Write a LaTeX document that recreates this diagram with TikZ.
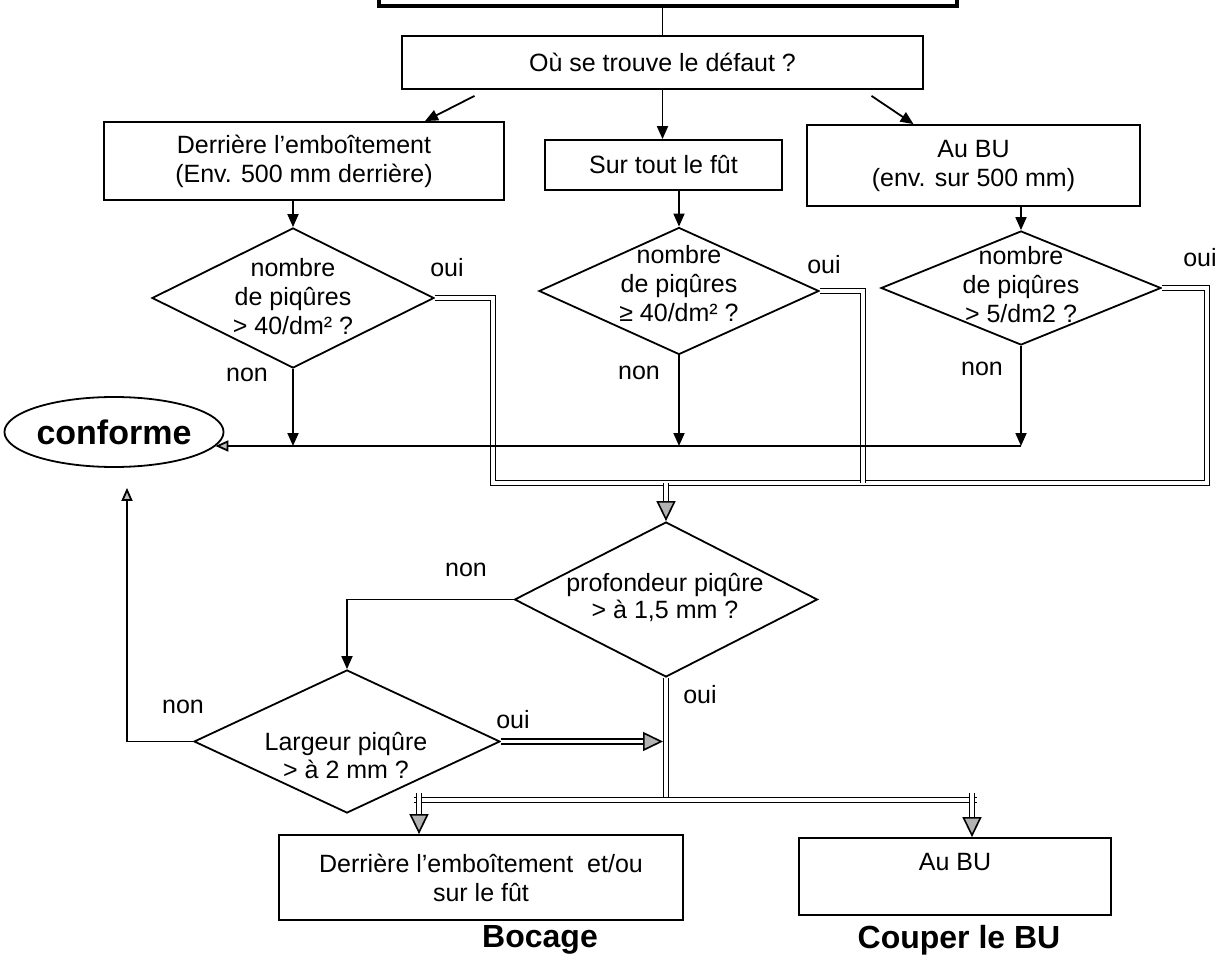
\documentclass[tikz,border=0pt]{standalone}
\usepackage{fontspec}
\setmainfont{Liberation Sans}
\usetikzlibrary{arrows.meta,shapes.geometric}
\begin{document}
\begin{tikzpicture}[x=1pt,y=-1pt,
  every node/.style={font=\fontsize{25}{29}\selectfont},
  box/.style={draw, line width=1.8pt, align=center, inner sep=0pt},
  dia/.style={diamond, draw, line width=1.8pt, inner sep=0pt},
  dtext/.style={align=center, inner sep=0pt},
  lab/.style={inner sep=0pt},
  bigtxt/.style={inner sep=0pt, font=\fontsize{32}{36}\selectfont\bfseries},
  ln/.style={line width=1.8pt},
  arr/.style={line width=1.8pt, -{Triangle[length=13pt,width=11pt]}},
  oarr/.style={line width=1.8pt, -{Triangle[length=13pt,width=11pt,fill=gray!50]}},
  dbl/.style={double, double distance=3.5pt, line width=1.6pt},
  dblarr/.style={dbl, -{Triangle[length=20pt,width=19pt,fill=gray!60]}}
]
\useasboundingbox (0,0) rectangle (1224,976);
\clip (0,0) rectangle (1224,976);

% boxes
\node[box, line width=4pt, minimum width=578pt, minimum height=40pt, anchor=south] (top) at (668,8) {};
\node[box, minimum width=521pt, minimum height=53pt] (ou) at (662.5,62.5) {Où se trouve le défaut ?};
\node[box, minimum width=400pt, minimum height=78pt] (der) at (304,161) {Derrière l’emboîtement\\(Env. 500 mm derrière)};
\node[box, minimum width=237pt, minimum height=50pt] (sur) at (663.5,165) {Sur tout le fût};
\node[box, minimum width=333pt, minimum height=81pt] (aubu) at (973.5,165.5) {Au BU\\(env. sur 500 mm)};

% diamonds
\node[dia, minimum width=282pt, minimum height=140pt] (d1) at (293,298) {};
\node[dtext] (t1) at (293,297) {nombre\\de piqûres\\> 40/dm² ?};
\node[dia, minimum width=280pt, minimum height=127pt] (d2) at (679,291) {};
\node[dtext] (t2) at (679,284) {nombre\\de piqûres\\≥ 40/dm² ?};
\node[dia, minimum width=280pt, minimum height=114pt] (d3) at (1021,288) {};
\node[dtext] (t3) at (1021,285) {nombre\\de piqûres\\> 5/dm2 ?};

\node[draw, ellipse, line width=1.8pt, minimum width=218pt, minimum height=70pt, inner sep=0pt, font=\fontsize{34}{38}\selectfont\bfseries] (conf) at (114,432) {conforme};

\node[dia, minimum width=303pt, minimum height=155pt] (d4) at (666,599.5) {};
\node[dtext, font=\fontsize{25}{27}\selectfont] (t4) at (665,597) {profondeur piqûre\\> à 1,5 mm ?};
\node[dia, minimum width=306pt, minimum height=143pt] (d5) at (347,741.5) {};
\node[dtext, font=\fontsize{25}{28}\selectfont] (t5) at (346,756) {Largeur piqûre\\> à 2 mm ?};

\node[box, minimum width=404pt, minimum height=85pt] (bl) at (481,877.5) {Derrière l’emboîtement~~et/ou\\sur le fût};
\node[box, minimum width=312pt, minimum height=77pt] (br) at (955,876.5) {Au BU\\\mbox{}};
\node[bigtxt] (boc) at (540,940) {Bocage};
\node[bigtxt] (cou) at (959,940) {Couper le BU};

% labels
\node[lab] (o1) at (447,268) {oui};
\node[lab] (n1) at (247,375) {non};
\node[lab] (o2) at (824,265) {oui};
\node[lab] (n2) at (639,373) {non};
\node[lab] (o3) at (1200,258) {oui};
\node[lab] (n3) at (982,369) {non};
\node[lab] (n4) at (466,570) {non};
\node[lab] (o4) at (700,695) {oui};
\node[lab] (o5) at (513,720) {oui};
\node[lab] (n5) at (183,707) {non};

% coordinates
\coordinate (hl) at (0,446);
\coordinate (cy) at (0,483);
\coordinate (by) at (0,800);
\coordinate (c1) at ([xshift=58pt]d1.east);
\coordinate (c2) at ([xshift=43pt]d2.east);
\coordinate (c3) at ([xshift=45pt]d3.east);
\coordinate (bla) at ([xshift=-62pt]bl.north);
\coordinate (bra) at ([xshift=17pt]br.north);
\coordinate (byL) at (bla |- by);
\coordinate (byR) at (bra |- by);

% top connectors
\draw[ln] (ou.north |- top.south) -- (ou.north);
\draw[arr] ([xshift=-188pt,yshift=-6pt]ou.south) -- ([xshift=121pt]der.north);
\draw[arr] (ou.south) -- (ou.south |- sur.north);
\draw[arr] ([xshift=209pt,yshift=-6pt]ou.south) -- ([xshift=-60pt]aubu.north);
\draw[arr] (d1.north |- der.south) -- (d1.north);
\draw[arr] (d2.north |- sur.south) -- (d2.north);
\draw[arr] (d3.north |- aubu.south) -- (d3.north);

% oui double lines
\draw[dbl] (d1.east) -- (c1) -- (c1 |- cy) -- (c3 |- cy) -- (c3) -- (d3.east);
\draw[dbl] (d2.east) -- (c2) -- (c2 |- cy);
\draw[dblarr] (d4.north |- cy) -- (d4.north);

% non lines to conforme
\draw[arr] (d1.south) -- (d1.south |- hl);
\draw[arr] (d2.south) -- (d2.south |- hl);
\draw[arr] (d3.south) -- (d3.south |- hl);
\draw[oarr] (d3.south |- hl) -- (conf.-8 |- hl);

% lower part
\draw[arr] (d4.west) -| (d5.north);
\draw[oarr] (d5.west) -| ([xshift=13pt,yshift=-20pt]conf.south);
\draw[dblarr, shorten >=3pt] (d5.east) -- (d5.east -| d4.south);
\draw[dbl] (d4.south) -- (d4.south |- by);
\draw[dbl] ([xshift=-5pt]byL) -- ([xshift=5pt]byR);
\draw[dblarr] ([yshift=7pt]byL) -- (bla);
\draw[dblarr] ([yshift=7pt]byR) -- (bra);
\end{tikzpicture}
\end{document}
